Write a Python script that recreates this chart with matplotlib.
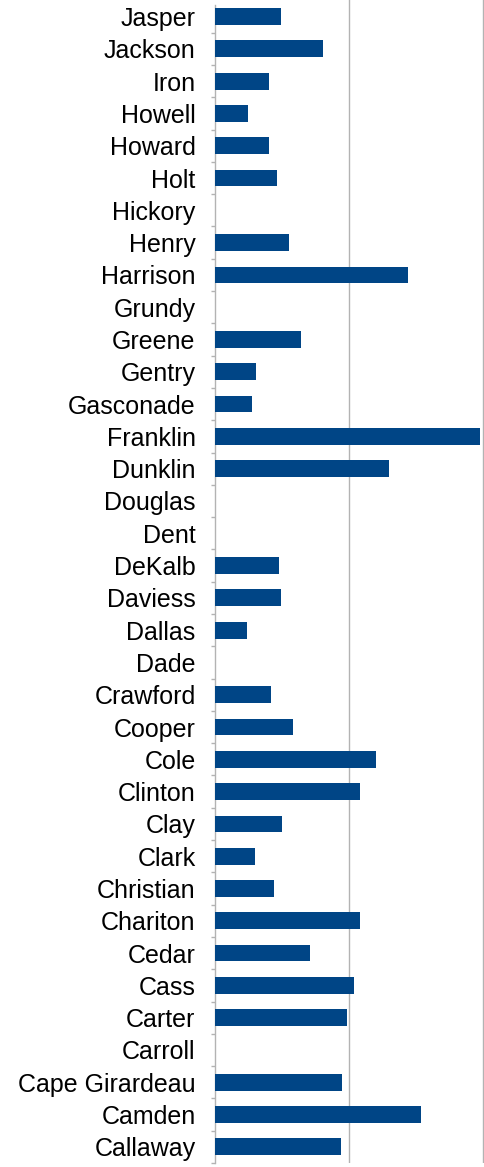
import matplotlib.pyplot as plt
from matplotlib.ticker import FixedLocator

# counties, top to bottom
counties = ["Jasper", "Jackson", "Iron", "Howell", "Howard", "Holt", "Hickory",
            "Henry", "Harrison", "Grundy", "Greene", "Gentry", "Gasconade",
            "Franklin", "Dunklin", "Douglas", "Dent", "DeKalb", "Daviess",
            "Dallas", "Dade", "Crawford", "Cooper", "Cole", "Clinton", "Clay",
            "Clark", "Christian", "Chariton", "Cedar", "Cass", "Carter",
            "Carroll", "Cape Girardeau", "Camden", "Callaway"]
values = [0.49, 0.81, 0.40, 0.25, 0.40, 0.46, 0.0,
          0.55, 1.44, 0.0, 0.64, 0.31, 0.28,
          1.98, 1.30, 0.0, 0.0, 0.48, 0.49,
          0.24, 0.0, 0.42, 0.58, 1.20, 1.08, 0.50,
          0.30, 0.44, 1.08, 0.71, 1.04, 0.99,
          0.0, 0.95, 1.54, 0.94]

plt.rcParams['font.family'] = ['Liberation Sans', 'DejaVu Sans']

fig = plt.figure(figsize=(4.84, 11.67), dpi=100)
# plot area: x 215..484 px, y 0.4..1163 px from top
ax = fig.add_axes([215 / 484, 4 / 1167, 1 - 215 / 484, 1162.6 / 1167])

n = len(counties)
pos = list(range(n))
ax.barh(pos, values, height=0.52, color="#004586", zorder=3)

ax.set_ylim(n - 0.5, -0.5)
ax.set_xlim(0, 2.01)

ax.set_yticks(pos)
ax.set_yticklabels(counties, fontsize=18)
ax.tick_params(axis="y", which="major", length=0, pad=14)
ax.yaxis.set_minor_locator(FixedLocator([i + 0.5 for i in range(n)]))
ax.tick_params(axis="y", which="minor", length=3, width=1, color="#b3b3b3")

ax.set_xticks([1, 2])
ax.tick_params(axis="x", length=0, labelbottom=False)
ax.grid(axis="x", color="#b3b3b3", linewidth=1, zorder=0)

for s in ["top", "right", "bottom"]:
    ax.spines[s].set_visible(False)
ax.spines["left"].set_color("#b3b3b3")
ax.spines["left"].set_linewidth(1)
ax.spines["left"].set_bounds(n - 0.5, -0.35)

fig.savefig("out.png", dpi=100)
